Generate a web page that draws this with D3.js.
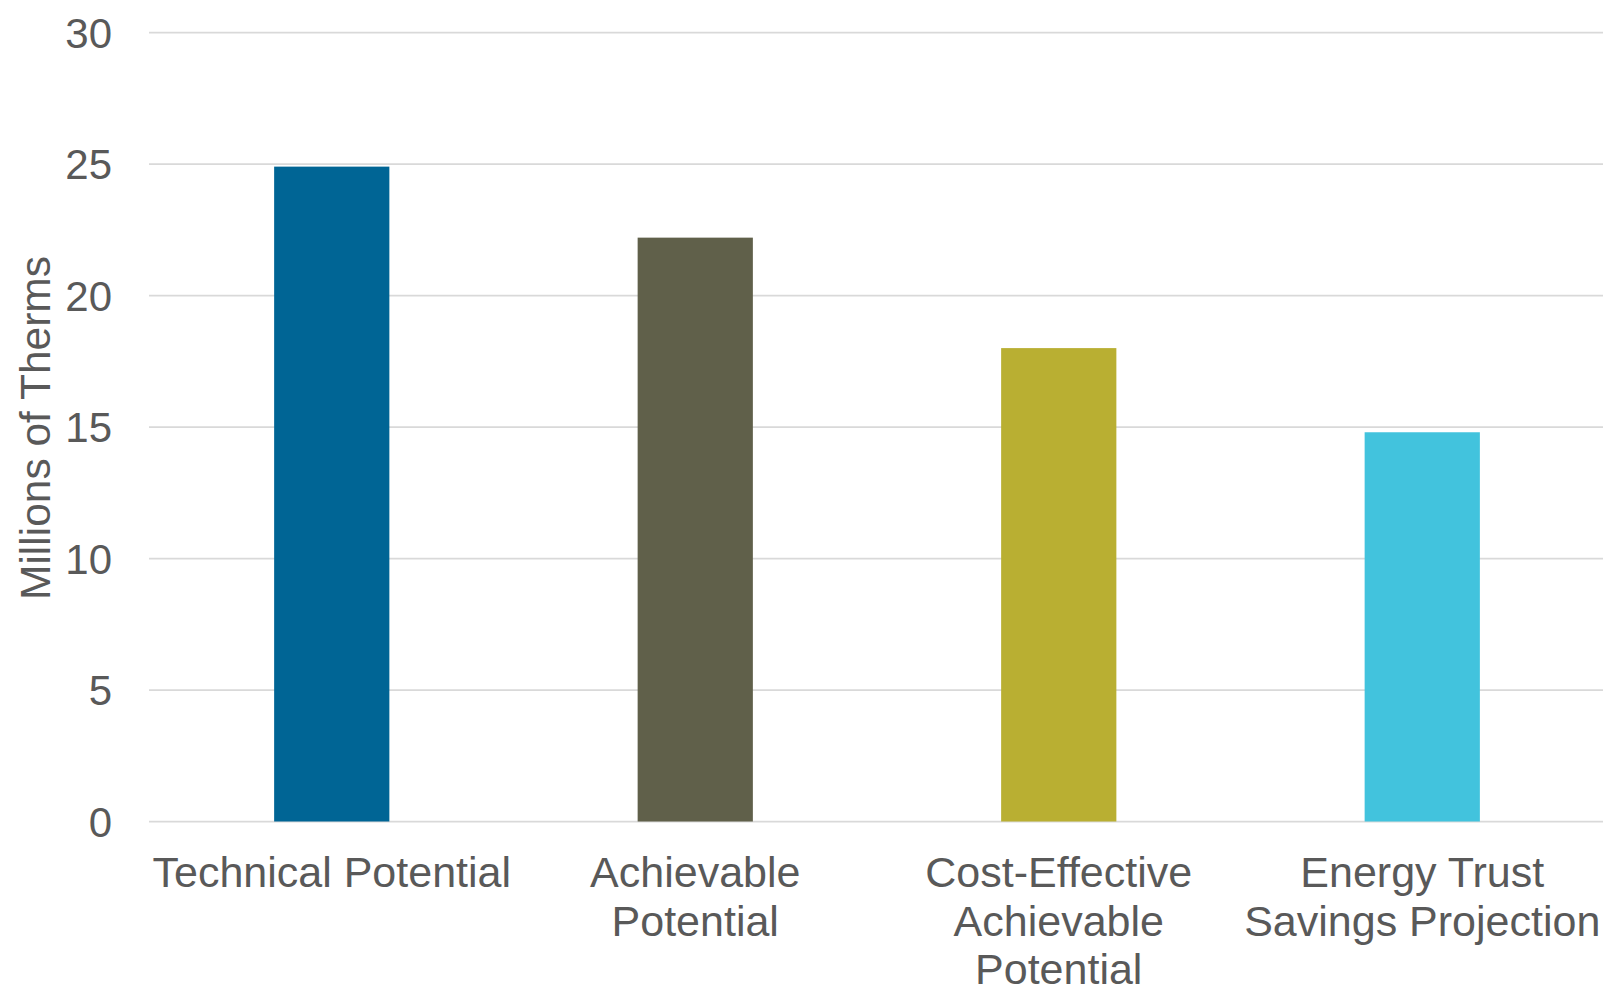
<!DOCTYPE html>
<html>
<head>
<meta charset="utf-8">
<script src="https://cdn.jsdelivr.net/npm/d3@7"></script>
<style>
  html, body { margin: 0; padding: 0; background: #ffffff; }
  svg { display: block; }
  text { font-family: "Liberation Sans", Arial, sans-serif; fill: #595959; }
</style>
</head>
<body>
<svg id="chart" width="1603" height="988"></svg>
<script>
// ---- Data ----
const categories = [
  "Technical Potential",
  "Achievable Potential",
  "Cost-Effective Achievable Potential",
  "Energy Trust Savings Projection"
];
const categoryLines = [
  ["Technical Potential"],
  ["Achievable", "Potential"],
  ["Cost-Effective", "Achievable", "Potential"],
  ["Energy Trust", "Savings Projection"]
];
const values = [24.9, 22.2, 18.0, 14.8];
const barColors = ["#006595", "#60604A", "#B9AF32", "#42C3DD"];
const yTicks = [0, 5, 10, 15, 20, 25, 30];
const yTitle = "Millions of Therms";

// ---- Layout ----
const svg = d3.select("#chart");
const plot = { left: 150, right: 1604, top: 32.5, bottom: 821.5 };

const x = d3.scaleBand()
  .domain(categories)
  .range([plot.left, plot.right])
  .paddingInner(0.683)
  .paddingOuter(0.683 / 2);

const y = d3.scaleLinear()
  .domain([0, 30])
  .range([plot.bottom, plot.top]);

// Gridlines
svg.append("g")
  .selectAll("line")
  .data(yTicks)
  .join("line")
  .attr("x1", 149)
  .attr("x2", 1603)
  .attr("y1", d => y(d))
  .attr("y2", d => y(d))
  .attr("stroke", "#D9D9D9")
  .attr("stroke-width", 1.75);

// Bars
svg.append("g")
  .selectAll("rect")
  .data(values)
  .join("rect")
  .attr("x", (d, i) => x(categories[i]))
  .attr("width", x.bandwidth())
  .attr("y", d => y(d))
  .attr("height", d => y(0) - y(d))
  .attr("fill", (d, i) => barColors[i]);

// Y tick labels
svg.append("g")
  .selectAll("text")
  .data(yTicks)
  .join("text")
  .attr("x", 112)
  .attr("y", d => y(d))
  .attr("dy", "0.36em")
  .attr("text-anchor", "end")
  .attr("font-size", 42)
  .text(d => d);

// Category labels
const catG = svg.append("g");
categories.forEach((c, i) => {
  const cx = x(c) + x.bandwidth() / 2;
  const t = catG.append("text")
    .attr("x", cx)
    .attr("y", 887)
    .attr("text-anchor", "middle")
    .attr("font-size", 43);
  categoryLines[i].forEach((line, j) => {
    t.append("tspan")
      .attr("x", cx)
      .attr("dy", j === 0 ? 0 : 48.5)
      .text(line);
  });
});

// Y axis title
svg.append("text")
  .attr("transform", `translate(50, ${(plot.top + plot.bottom) / 2 + 1}) rotate(-90)`)
  .attr("text-anchor", "middle")
  .attr("font-size", 42.5)
  .text(yTitle);
</script>
</body>
</html>
